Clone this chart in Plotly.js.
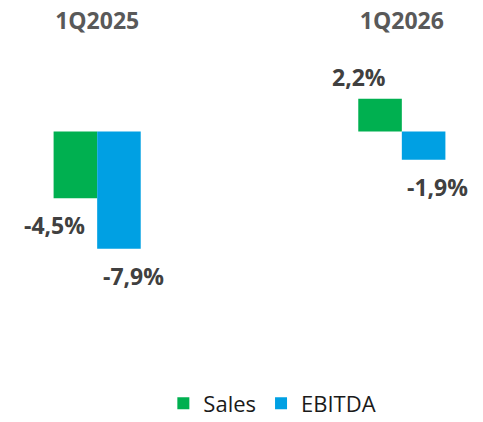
<!DOCTYPE html>
<html>
<head>
<meta charset="utf-8">
<script src="https://cdn.plot.ly/plotly-3.0.1.min.js"></script>
<style>html,body{margin:0;padding:0;background:#fff;}#chart{width:483px;height:422px;}</style>
</head>
<body>
<div id="chart"></div>
<script>
// Data
var categories = ['1Q2025', '1Q2026'];
var seriesNames = ['Sales', 'EBITDA'];
var salesValues = [-4.5, 2.2];
var ebitdaValues = [-7.9, -1.9];

var colors = ['#00B050', '#00A0E3'];
var seriesValues = [salesValues, ebitdaValues];
var labelXShift = [-43, 36];

var traces = seriesValues.map(function (vals, i) {
  return {
    type: 'bar',
    name: seriesNames[i],
    x: categories,
    y: vals,
    marker: {color: colors[i]},
    hoverinfo: 'skip'
  };
});

var annotations = [];
seriesValues.forEach(function (vals, i) {
  vals.forEach(function (v, j) {
    annotations.push({
      x: j, y: v, xref: 'x', yref: 'y',
      text: v.toFixed(1).replace('.', ',') + '%',
      showarrow: false,
      xanchor: 'center', yanchor: 'middle',
      xshift: labelXShift[i],
      yshift: v < 0 ? -27 : 22,
      font: {family: 'Open Sans', size: 23, color: '#404040', weight: 'bold'}
    });
  });
});

var layout = {
  width: 483, height: 422,
  margin: {l: 21, r: 5, t: 35, b: 142, autoexpand: false},
  paper_bgcolor: '#ffffff', plot_bgcolor: '#ffffff',
  barmode: 'group', bargap: 0.714, bargroupgap: 0,
  showlegend: true,
  xaxis: {
    type: 'category', categoryarray: categories, range: [-0.25, 1.25],
    side: 'top', showline: false, showgrid: false, zeroline: false, ticks: '',
    tickfont: {family: 'Open Sans', size: 23, color: '#595959', weight: 'bold'},
    fixedrange: true, automargin: false
  },
  yaxis: {
    range: [-10, 6.5], visible: false, showgrid: false, zeroline: false, fixedrange: true
  },
  legend: {
    orientation: 'h', x: 0.55, xanchor: 'center', y: -0.504, yanchor: 'middle',
    font: {family: 'Open Sans', size: 22, color: '#1a1a1a'}
  },
  annotations: annotations
};

Plotly.newPlot('chart', traces, layout, {displayModeBar: false, staticPlot: true});
</script>
</body>
</html>
